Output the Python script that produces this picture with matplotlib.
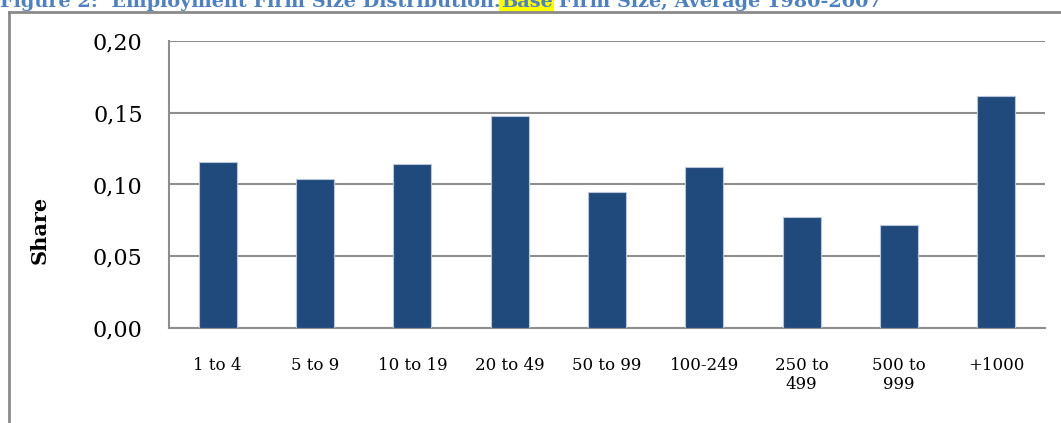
import matplotlib
matplotlib.use("Agg")
import matplotlib.pyplot as plt
from matplotlib.lines import Line2D
from matplotlib.ticker import FuncFormatter

# data
size_classes = ["1 to 4", "5 to 9", "10 to 19", "20 to 49", "50 to 99",
                "100-249", "250 to\n499", "500 to\n999", "+1000"]
shares = [0.116, 0.104, 0.114, 0.148, 0.095, 0.112, 0.077, 0.072, 0.162]
yticks = [0.00, 0.05, 0.10, 0.15, 0.20]

bar_color = "#214A7C"
grid_color = "#8E8E8E"
title_color = "#4F81BD"

fig = plt.figure(figsize=(10.61, 4.23), dpi=100)
fig.patch.set_facecolor("white")
ax = fig.add_axes([0.1593, 0.2246, 0.8256, 0.6785])

x = range(len(size_classes))
ax.bar(x, shares, width=0.39, color=bar_color, edgecolor="#B8C6D9",
       linewidth=0.8, zorder=3)

ax.set_xlim(-0.5, len(size_classes) - 0.5)
ax.set_ylim(0, 0.20)
ax.set_yticks(yticks)
ax.yaxis.set_major_formatter(FuncFormatter(lambda v, p: ("%.2f" % v).replace(".", ",")))
ax.set_xticks(list(x))
ax.set_xticklabels(size_classes, fontfamily="DejaVu Serif", fontsize=12,
                   linespacing=1.15)
for lab in ax.get_yticklabels():
    lab.set_fontfamily("DejaVu Serif")
    lab.set_fontsize(16)

ax.tick_params(axis="both", length=0)
ax.tick_params(axis="x", pad=21)
ax.tick_params(axis="y", pad=19)

ax.grid(axis="y", color=grid_color, linewidth=1.5, zorder=0)
for side in ["top", "right"]:
    ax.spines[side].set_visible(False)
for side in ["left", "bottom"]:
    ax.spines[side].set_color(grid_color)
    ax.spines[side].set_linewidth(1.5)

ax.set_ylabel("Share", fontfamily="DejaVu Serif", fontweight="bold", fontsize=15)
ax.yaxis.set_label_coords(-0.136, 0.341)

# outer chart frame (cut off on the right and at the bottom)
W, H = 1061, 423
fig.add_artist(Line2D([9 / W, 1.0], [1 - 12 / H, 1 - 12 / H], color="#8A8A8A",
                      linewidth=2, transform=fig.transFigure))
fig.add_artist(Line2D([9 / W, 9 / W], [0, 1 - 12 / H], color="#8A8A8A",
                      linewidth=2, transform=fig.transFigure))

# title, cut off at the top as in the source, with "Base" highlighted
tkw = dict(color=title_color, fontfamily="DejaVu Serif", fontweight="bold",
           fontsize=13.9)
t1 = fig.text(0 / W, 1 - 7 / H, "Figure 2:  Employment Firm Size Distribution.",
              ha="left", va="baseline", **tkw)
t2 = ax.annotate("Base", xy=(1, 0), xycoords=t1, ha="left", va="bottom",
                 annotation_clip=False,
                 bbox=dict(boxstyle="square,pad=0.1", fc="#FFFF00", ec="none"),
                 **tkw)
t3 = ax.annotate(" Firm Size, Average 1980-2007", xy=(1, 0), xycoords=t2,
                 ha="left", va="bottom", annotation_clip=False, **tkw)

fig.savefig("out.png", dpi=100)
